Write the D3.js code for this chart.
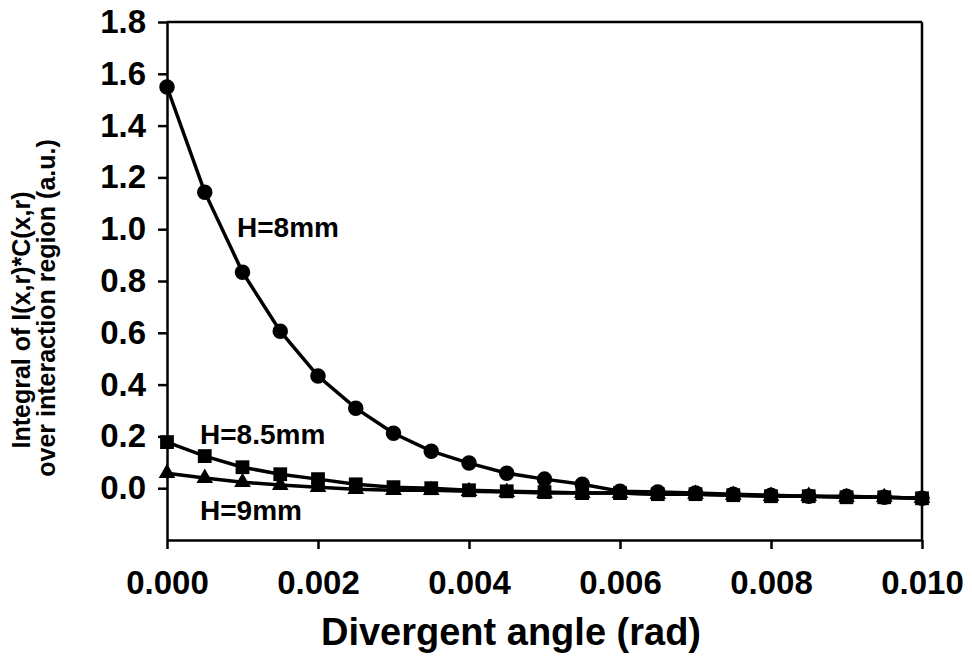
<!DOCTYPE html>
<html>
<head>
<meta charset="utf-8">
<script src="https://cdn.jsdelivr.net/npm/d3@7"></script>
<style>
  body { margin: 0; background: #fff; }
  svg { display: block; font-family: "Liberation Sans", Arial, sans-serif; font-weight: bold; }
</style>
</head>
<body>
<svg id="chart"></svg>
<script>
let width = 972;
let height = 661;

// divergent angle (rad), one point every 0.0005
const angles = [0, 0.0005, 0.001, 0.0015, 0.002, 0.0025, 0.003, 0.0035, 0.004, 0.0045, 0.005,
                0.0055, 0.006, 0.0065, 0.007, 0.0075, 0.008, 0.0085, 0.009, 0.0095, 0.010];

const h8 = [1.549, 1.143, 0.834, 0.606, 0.433, 0.309, 0.212, 0.143, 0.097, 0.058, 0.035,
            0.015, -0.012, -0.015, -0.019, -0.023, -0.027, -0.031, -0.031, -0.035, -0.039];
const h85 = [0.178, 0.124, 0.081, 0.054, 0.035, 0.015, 0.004, 0.000, -0.008, -0.012, -0.015,
             -0.019, -0.019, -0.023, -0.023, -0.027, -0.031, -0.031, -0.035, -0.035, -0.039];
const h9 = [0.058, 0.039, 0.023, 0.012, 0.004, -0.004, -0.008, -0.008, -0.012, -0.015, -0.019,
            -0.019, -0.019, -0.023, -0.023, -0.027, -0.031, -0.031, -0.035, -0.035, -0.039];

const xTicks = [0, 0.002, 0.004, 0.006, 0.008, 0.010];
const yTicks = [0, 0.2, 0.4, 0.6, 0.8, 1.0, 1.2, 1.4, 1.6, 1.8];

const svg = d3.select("#chart")
  .attr("width", width)
  .attr("height", height);

const xScale = d3.scaleLinear()
  .domain([0, 0.010])
  .range([167, 922]);

const yScale = d3.scaleLinear()
  .domain([-0.2, 1.8])
  .range([540, 22]);

// frame
svg.append("line")
  .attr("x1", 167).attr("x2", 922)
  .attr("y1", yScale(1.8)).attr("y2", yScale(1.8))
  .attr("stroke", "#000").attr("stroke-width", 2.5);
svg.append("line")
  .attr("x1", 922).attr("x2", 922)
  .attr("y1", yScale(1.8)).attr("y2", yScale(-0.2))
  .attr("stroke", "#000").attr("stroke-width", 2.5);

const xAxis = d3.axisBottom(xScale)
  .tickValues(xTicks)
  .tickFormat(d3.format(".3f"))
  .tickSizeInner(9)
  .tickSizeOuter(0)
  .tickPadding(22);

svg.append("g")
  .attr("transform", "translate(0," + yScale(-0.2) + ")")
  .call(xAxis)
  .call(g => g.selectAll("path, line").attr("stroke", "#000").attr("stroke-width", 2.5))
  .call(g => g.selectAll("text")
    .attr("fill", "#000")
    .style("font-size", "33px")
    .style("font-weight", "bold")
    .style("font-family", "'Liberation Sans', Arial, sans-serif"));

const yAxis = d3.axisLeft(yScale)
  .tickValues(yTicks)
  .tickFormat(d3.format(".1f"))
  .tickSizeInner(9)
  .tickSizeOuter(0)
  .tickPadding(12);

svg.append("g")
  .attr("transform", "translate(167,0)")
  .call(yAxis)
  .call(g => g.selectAll("path, line").attr("stroke", "#000").attr("stroke-width", 2.5))
  .call(g => g.selectAll("text")
    .attr("fill", "#000")
    .style("font-size", "33px")
    .style("font-weight", "bold")
    .style("font-family", "'Liberation Sans', Arial, sans-serif"));

const line = d3.line()
  .x((d, i) => xScale(angles[i]))
  .y(d => yScale(d));

function drawSeries(values, symbol, size) {
  svg.append("path")
    .datum(values)
    .attr("fill", "none")
    .attr("stroke", "#000")
    .attr("stroke-width", 3.5)
    .attr("d", line);

  svg.append("g")
    .selectAll("path")
    .data(values)
    .enter()
    .append("path")
    .attr("d", d3.symbol().type(symbol).size(size))
    .attr("transform", (d, i) => "translate(" + xScale(angles[i]) + "," + yScale(d) + ")")
    .attr("fill", "#000");
}

drawSeries(h9, d3.symbolTriangle, 120);
drawSeries(h85, d3.symbolSquare, 190);
drawSeries(h8, d3.symbolCircle, 190);

// series labels
svg.append("text").attr("x", 237).attr("y", 237)
  .style("font-size", "28px").text("H=8mm");
svg.append("text").attr("x", 200).attr("y", 444)
  .style("font-size", "28px").text("H=8.5mm");
svg.append("text").attr("x", 200).attr("y", 520)
  .style("font-size", "28px").text("H=9mm");

// axis titles
svg.append("text")
  .attr("x", 511).attr("y", 645)
  .attr("text-anchor", "middle")
  .style("font-size", "38px")
  .text("Divergent angle (rad)");

svg.append("text")
  .attr("transform", "translate(30,320) rotate(-90)")
  .attr("text-anchor", "middle")
  .style("font-size", "25px")
  .text("Integral of I(x,r)*C(x,r)");

svg.append("text")
  .attr("transform", "translate(55,308) rotate(-90)")
  .attr("text-anchor", "middle")
  .style("font-size", "25px")
  .text("over interaction region (a.u.)");
</script>
</body>
</html>
